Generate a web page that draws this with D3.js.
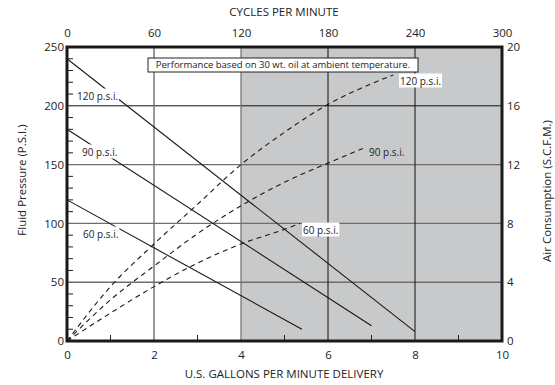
<!DOCTYPE html>
<html><head><meta charset="utf-8">
<script src="https://cdn.jsdelivr.net/npm/d3@7"></script>
<style>
body{margin:0;background:#fff;}
text{font-family:"Open Sans",sans-serif;fill:#222;}
</style></head>
<body><svg id="c" width="555" height="385"></svg>
<script>
// ---- data ----
const gpmTicks = [0,2,4,6,8,10];
const cpmTicks = [0,60,120,180,240,300];
const psiTicks = [0,50,100,150,200,250];
const scfmTicks = [0,4,8,12,16,20];
const pressureLabels = ["120 p.s.i.","90 p.s.i.","60 p.s.i."];
// fluid pressure (psi) vs gpm, solid lines
const fluid120 = [[0,240],[8,8]];
const fluid90  = [[0,180],[7,13]];
const fluid60  = [[0,120],[5.4,10]];
// air consumption (scfm) vs gpm, dashed curves
const air120 = [[0,0],[1,3.7],[2,6.6],[3,9.3],[4,12],[5,14.2],[6,16.1],[7,17.5],[7.5,18.1]];
const air90  = [[0,0],[1,2.8],[2,5.1],[3,7.3],[4,9.2],[5,10.8],[6,12.1],[6.8,13.1]];
const air60  = [[0,0],[1,1.9],[2,3.7],[3,5.3],[4,6.6],[5,7.6],[5.36,8.0]];
const note = "Performance based on 30 wt. oil at ambient temperature.";

const svg = d3.select("#c");
const L=67,R=502,T=47,B=341;
const x = d3.scaleLinear().domain([0,10]).range([L,R]);
const xTop = d3.scaleLinear().domain([0,300]).range([L,R]);
const y = d3.scaleLinear().domain([0,250]).range([B,T]);
const y2 = d3.scaleLinear().domain([0,20]).range([B,T]);

// gray region
svg.append("rect").attr("x",x(4)).attr("y",T).attr("width",x(10)-x(4)).attr("height",B-T).attr("fill","#c8c9ca");

// gridlines
[50,100,150].forEach(v=>svg.append("line").attr("x1",L).attr("x2",R).attr("y1",y(v)).attr("y2",y(v)).attr("stroke","#6e6e6e").attr("stroke-width",1.4));
svg.append("line").attr("x1",L).attr("x2",R).attr("y1",y(200)).attr("y2",y(200)).attr("stroke","#111").attr("stroke-width",1);
svg.append("line").attr("x1",x(2)).attr("x2",x(2)).attr("y1",T).attr("y2",B).attr("stroke","#6e6e6e").attr("stroke-width",1.4);
svg.append("line").attr("x1",x(4)).attr("x2",x(4)).attr("y1",T).attr("y2",B).attr("stroke","#6e6e6e").attr("stroke-width",1.2);
[6,8].forEach(v=>svg.append("line").attr("x1",x(v)).attr("x2",x(v)).attr("y1",T).attr("y2",B).attr("stroke","#111").attr("stroke-width",1));

// minor ticks
d3.range(10,250,10).filter(v=>v%50!==0).forEach(v=>svg.append("line").attr("x1",L).attr("x2",L+6).attr("y1",y(v)).attr("y2",y(v)).attr("stroke","#222").attr("stroke-width",1));
[1,3,5,7,9].forEach(v=>svg.append("line").attr("x1",x(v)).attr("x2",x(v)).attr("y1",B).attr("y2",B-6).attr("stroke","#222").attr("stroke-width",1));

// lines
const lineF = d3.line().x(d=>x(d[0])).y(d=>y(d[1]));
const lineA = d3.line().x(d=>x(d[0])).y(d=>y2(d[1])).curve(d3.curveMonotoneX);
[fluid120,fluid90,fluid60].forEach(d=>svg.append("path").attr("d",lineF(d)).attr("fill","none").attr("stroke","#1a1a1a").attr("stroke-width",1.1));
[air120,air90,air60].forEach(d=>svg.append("path").attr("d",lineA(d)).attr("fill","none").attr("stroke","#1a1a1a").attr("stroke-width",1.1).attr("stroke-dasharray","5,4"));

// labels
function label(t,cx,cy,bg){
  const g=svg.append("g");
  const tx=g.append("text").attr("x",cx).attr("y",cy).attr("dy","0.35em").attr("text-anchor","start").attr("font-size",10).text(t);
  const bb=tx.node().getBBox();
  if(bg) g.insert("rect","text").attr("x",bb.x-1).attr("y",bb.y).attr("width",bb.width+2).attr("height",bb.height).attr("fill","#fff");
}
label(pressureLabels[0],77,96,true);
label(pressureLabels[1],82,152,true);
label(pressureLabels[2],83,234,true);
label(pressureLabels[0],400,81,true);
label(pressureLabels[1],369,152,false);
label(pressureLabels[2],303,230,true);

// note box
svg.append("rect").attr("x",148).attr("y",58).attr("width",270).attr("height",14).attr("fill","#fff").attr("stroke","#222").attr("stroke-width",1);
svg.append("text").attr("x",283).attr("y",65).attr("dy","0.35em").attr("text-anchor","middle").attr("font-size",9.5).text(note);

// frame
svg.append("rect").attr("x",L).attr("y",T).attr("width",R-L).attr("height",B-T).attr("fill","none").attr("stroke","#1a1a1a").attr("stroke-width",3);

// axes
function styleAxis(g){g.select(".domain").remove();g.selectAll("line").remove();g.selectAll("text").attr("font-size",11.5).attr("fill","#222").style("font-family","Open Sans");}
svg.append("g").attr("transform",`translate(0,${B})`).call(d3.axisBottom(x).tickValues(gpmTicks).tickSize(0).tickPadding(10)).call(styleAxis);
svg.append("g").attr("transform",`translate(0,${T})`).call(d3.axisTop(xTop).tickValues(cpmTicks).tickSize(0).tickPadding(10)).call(styleAxis);
svg.append("g").attr("transform",`translate(${L},0)`).call(d3.axisLeft(y).tickValues(psiTicks).tickSize(0).tickPadding(3)).call(styleAxis);
svg.append("g").attr("transform",`translate(${R},0)`).call(d3.axisRight(y2).tickValues(scfmTicks).tickSize(0).tickPadding(5)).call(styleAxis);

// titles
svg.append("text").attr("x",284).attr("y",12).attr("dy","0.35em").attr("text-anchor","middle").attr("font-size",11.5).text("CYCLES PER MINUTE");
svg.append("text").attr("x",284).attr("y",374).attr("dy","0.35em").attr("text-anchor","middle").attr("font-size",11.5).text("U.S. GALLONS PER MINUTE DELIVERY");
svg.append("text").attr("transform","translate(22,180) rotate(-90)").attr("dy","0.35em").attr("text-anchor","middle").attr("font-size",11.5).text("Fluid Pressure (P.S.I.)");
svg.append("text").attr("transform","translate(547,191) rotate(-90)").attr("dy","0.35em").attr("text-anchor","middle").attr("font-size",11.5).text("Air Consumption (S.C.F.M.)");
</script></body></html>
